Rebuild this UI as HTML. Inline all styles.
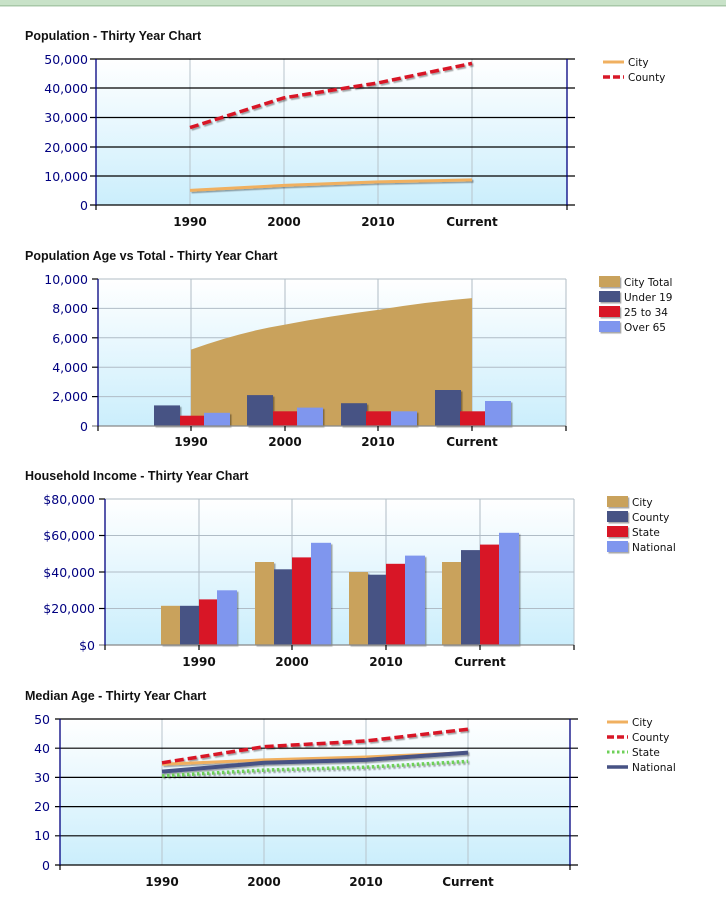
<!DOCTYPE html>
<html><head><meta charset="utf-8"><style>
html,body{margin:0;padding:0;background:#fff;width:726px;height:908px;overflow:hidden}
svg{display:block;font-family:"DejaVu Sans","Liberation Sans",sans-serif}
.t{font-size:12.5px;font-weight:bold;fill:#111;font-family:"Liberation Sans",sans-serif}
.y{font-size:12.5px;fill:#000080;text-anchor:end}
.x{font-size:12px;font-weight:bold;fill:#111;text-anchor:middle}
.l{font-size:10.5px;fill:#111}
</style></head><body>
<svg width="726" height="908" viewBox="0 0 726 908">
<defs>
<linearGradient id="bg" x1="0" y1="0" x2="0" y2="1"><stop offset="0" stop-color="#ffffff"/><stop offset="1" stop-color="#cbeefc"/></linearGradient>
<filter id="sh" x="-5%" y="-20%" width="110%" height="140%"><feDropShadow dx="1.5" dy="1.5" stdDeviation="0.6" flood-color="#000" flood-opacity="0.35"/></filter>
</defs>
<rect x="0" y="0" width="726" height="6" fill="#c8e2c8"/><rect x="0" y="5" width="726" height="1.5" fill="#a8c8a8"/>

<!-- Chart 1 -->
<text class="t" x="25" y="40">Population - Thirty Year Chart</text>
<rect x="96" y="59" width="471" height="146" fill="url(#bg)"/>
<g stroke="#b8c4cc" stroke-width="1"><line x1="190" y1="59" x2="190" y2="205"/><line x1="284" y1="59" x2="284" y2="205"/><line x1="378" y1="59" x2="378" y2="205"/><line x1="472" y1="59" x2="472" y2="205"/></g>
<g stroke="#000" stroke-width="1.2"><line x1="90" y1="59" x2="575" y2="59"/><line x1="90" y1="88" x2="575" y2="88"/><line x1="90" y1="117.5" x2="575" y2="117.5"/><line x1="90" y1="147" x2="575" y2="147"/><line x1="90" y1="176" x2="575" y2="176"/><line x1="90" y1="205" x2="575" y2="205"/><line x1="96" y1="205" x2="96" y2="210"/><line x1="567" y1="205" x2="567" y2="210"/></g>
<line x1="96" y1="59" x2="96" y2="205" stroke="#000080" stroke-width="1.3"/><line x1="567" y1="59" x2="567" y2="205" stroke="#000080" stroke-width="1.3"/>
<g class="y"><text x="88" y="64">50,000</text><text x="88" y="93">40,000</text><text x="88" y="122">30,000</text><text x="88" y="152">20,000</text><text x="88" y="181">10,000</text><text x="88" y="210">0</text></g>
<g filter="url(#sh)" fill="none">
<polyline points="190,190.4 284,185.4 378,181.9 472,179.9" stroke="#f0b060" stroke-width="3"/>
<polyline points="190,127.6 284,97.8 378,82.9 472,63.4" stroke="#d81828" stroke-width="3.5" stroke-dasharray="9,4"/>
</g>
<g class="x"><text x="190" y="226">1990</text><text x="284" y="226">2000</text><text x="378" y="226">2010</text><text x="472" y="226">Current</text></g>
<line x1="603" y1="62" x2="624" y2="62" stroke="#f0b060" stroke-width="3"/><text class="l" x="628" y="66">City</text>
<line x1="603" y1="77" x2="624" y2="77" stroke="#d81828" stroke-width="3.5" stroke-dasharray="7,3"/><text class="l" x="628" y="81">County</text>

<!-- Chart 2 -->
<text class="t" x="25" y="260">Population Age vs Total  - Thirty Year Chart</text>
<rect x="98" y="279" width="468" height="147" fill="url(#bg)"/>
<g stroke="#b0bcc6" stroke-width="1"><line x1="191" y1="279" x2="191" y2="426"/><line x1="285" y1="279" x2="285" y2="426"/><line x1="378" y1="279" x2="378" y2="426"/><line x1="472" y1="279" x2="472" y2="426"/>
<line x1="98" y1="279" x2="566" y2="279"/><line x1="98" y1="308.4" x2="566" y2="308.4"/><line x1="98" y1="337.8" x2="566" y2="337.8"/><line x1="98" y1="367.2" x2="566" y2="367.2"/><line x1="98" y1="396.6" x2="566" y2="396.6"/><line x1="566" y1="279" x2="566" y2="426"/></g>
<path d="M191,426 L191,349.6 Q240,332 285,324.6 Q330,316 378,309.9 Q425,302 472,298.1 L472,426 Z" fill="#c9a25c"/>
<g filter="url(#sh)">
<rect x="154" y="405.4" width="26" height="20.6" fill="#475284"/><rect x="180" y="415.7" width="24" height="10.3" fill="#d81428"/><rect x="204" y="412.8" width="26" height="13.2" fill="#7f96ee"/>
<rect x="247" y="395.1" width="26" height="30.9" fill="#475284"/><rect x="273" y="411.3" width="24" height="14.7" fill="#d81428"/><rect x="297" y="407.6" width="26" height="18.4" fill="#7f96ee"/>
<rect x="341" y="403.2" width="26" height="22.8" fill="#475284"/><rect x="366" y="411.3" width="25" height="14.7" fill="#d81428"/><rect x="391" y="411.3" width="26" height="14.7" fill="#7f96ee"/>
<rect x="435" y="390" width="26" height="36" fill="#475284"/><rect x="460" y="411.3" width="25" height="14.7" fill="#d81428"/><rect x="485" y="401" width="26" height="25" fill="#7f96ee"/>
</g>
<g stroke="#000" stroke-width="1.2"><line x1="92" y1="279" x2="98" y2="279"/><line x1="92" y1="308.4" x2="98" y2="308.4"/><line x1="92" y1="337.8" x2="98" y2="337.8"/><line x1="92" y1="367.2" x2="98" y2="367.2"/><line x1="92" y1="396.6" x2="98" y2="396.6"/><line x1="92" y1="426" x2="566" y2="426" stroke="#888"/><line x1="98" y1="426" x2="98" y2="431"/><line x1="566" y1="426" x2="566" y2="431"/><line x1="191" y1="426" x2="191" y2="431"/><line x1="285" y1="426" x2="285" y2="431"/><line x1="378" y1="426" x2="378" y2="431"/><line x1="472" y1="426" x2="472" y2="431"/></g>
<line x1="98" y1="279" x2="98" y2="426" stroke="#000080" stroke-width="1.3"/>
<g class="y"><text x="88" y="284">10,000</text><text x="88" y="313">8,000</text><text x="88" y="343">6,000</text><text x="88" y="372">4,000</text><text x="88" y="401">2,000</text><text x="88" y="431">0</text></g>
<g class="x"><text x="191" y="446">1990</text><text x="285" y="446">2000</text><text x="378" y="446">2010</text><text x="472" y="446">Current</text></g>
<g filter="url(#sh)"><rect x="599" y="276" width="21" height="11" fill="#c9a25c"/><rect x="599" y="291" width="21" height="11" fill="#475284"/><rect x="599" y="306" width="21" height="11" fill="#d81428"/><rect x="599" y="321" width="21" height="11" fill="#7f96ee"/></g>
<text class="l" x="624" y="286">City Total</text><text class="l" x="624" y="301">Under 19</text><text class="l" x="624" y="316">25 to 34</text><text class="l" x="624" y="331">Over 65</text>

<!-- Chart 3 -->
<text class="t" x="25" y="480">Household Income - Thirty Year Chart</text>
<rect x="105" y="499" width="469" height="146" fill="url(#bg)"/>
<g stroke="#b0bcc6" stroke-width="1"><line x1="199" y1="499" x2="199" y2="645"/><line x1="292" y1="499" x2="292" y2="645"/><line x1="386" y1="499" x2="386" y2="645"/><line x1="480" y1="499" x2="480" y2="645"/>
<line x1="105" y1="499" x2="574" y2="499"/><line x1="105" y1="535.5" x2="574" y2="535.5"/><line x1="105" y1="572" x2="574" y2="572"/><line x1="105" y1="608.5" x2="574" y2="608.5"/><line x1="574" y1="499" x2="574" y2="645"/></g>
<g filter="url(#sh)">
<rect x="161" y="605.8" width="19" height="39.2" fill="#c9a25c"/><rect x="180" y="605.8" width="19" height="39.2" fill="#475284"/><rect x="199" y="599.4" width="18" height="45.6" fill="#d81428"/><rect x="217" y="590.3" width="20" height="54.7" fill="#7f96ee"/>
<rect x="255" y="562" width="19" height="83" fill="#c9a25c"/><rect x="274" y="569.3" width="19" height="75.7" fill="#475284"/><rect x="292" y="557.4" width="19" height="87.6" fill="#d81428"/><rect x="311" y="542.8" width="20" height="102.2" fill="#7f96ee"/>
<rect x="349" y="572" width="19" height="73" fill="#c9a25c"/><rect x="368" y="574.7" width="19" height="70.3" fill="#475284"/><rect x="386" y="563.8" width="19" height="81.2" fill="#d81428"/><rect x="405" y="555.6" width="20" height="89.4" fill="#7f96ee"/>
<rect x="442" y="562" width="19" height="83" fill="#c9a25c"/><rect x="461" y="550.1" width="19" height="94.9" fill="#475284"/><rect x="480" y="544.6" width="19" height="100.4" fill="#d81428"/><rect x="499" y="532.8" width="20" height="112.2" fill="#7f96ee"/>
</g>
<g stroke="#000" stroke-width="1.2"><line x1="99" y1="499" x2="105" y2="499"/><line x1="99" y1="535.5" x2="105" y2="535.5"/><line x1="99" y1="572" x2="105" y2="572"/><line x1="99" y1="608.5" x2="105" y2="608.5"/><line x1="99" y1="645" x2="574" y2="645" stroke="#888"/><line x1="105" y1="645" x2="105" y2="650"/><line x1="574" y1="645" x2="574" y2="650"/><line x1="199" y1="645" x2="199" y2="650"/><line x1="292" y1="645" x2="292" y2="650"/><line x1="386" y1="645" x2="386" y2="650"/><line x1="480" y1="645" x2="480" y2="650"/></g>
<line x1="105" y1="499" x2="105" y2="645" stroke="#000080" stroke-width="1.3"/>
<g class="y"><text x="95" y="504">$80,000</text><text x="95" y="540">$60,000</text><text x="95" y="577">$40,000</text><text x="95" y="613">$20,000</text><text x="95" y="650">$0</text></g>
<g class="x"><text x="199" y="666">1990</text><text x="292" y="666">2000</text><text x="386" y="666">2010</text><text x="480" y="666">Current</text></g>
<g filter="url(#sh)"><rect x="607" y="496" width="21" height="11" fill="#c9a25c"/><rect x="607" y="511" width="21" height="11" fill="#475284"/><rect x="607" y="526" width="21" height="11" fill="#d81428"/><rect x="607" y="541" width="21" height="11" fill="#7f96ee"/></g>
<text class="l" x="632" y="506">City</text><text class="l" x="632" y="521">County</text><text class="l" x="632" y="536">State</text><text class="l" x="632" y="551">National</text>

<!-- Chart 4 -->
<text class="t" x="25" y="700">Median Age - Thirty Year Chart</text>
<rect x="60" y="719" width="510" height="146" fill="url(#bg)"/>
<g stroke="#b8c4cc" stroke-width="1"><line x1="162" y1="719" x2="162" y2="865"/><line x1="264" y1="719" x2="264" y2="865"/><line x1="366" y1="719" x2="366" y2="865"/><line x1="468" y1="719" x2="468" y2="865"/></g>
<g stroke="#000" stroke-width="1.2"><line x1="55" y1="719" x2="578" y2="719"/><line x1="55" y1="748.2" x2="578" y2="748.2"/><line x1="55" y1="777.4" x2="578" y2="777.4"/><line x1="55" y1="806.6" x2="578" y2="806.6"/><line x1="55" y1="835.8" x2="578" y2="835.8"/><line x1="55" y1="865" x2="578" y2="865"/><line x1="60" y1="865" x2="60" y2="870"/><line x1="570" y1="865" x2="570" y2="870"/></g>
<line x1="60" y1="719" x2="60" y2="865" stroke="#000080" stroke-width="1.3"/><line x1="570" y1="719" x2="570" y2="865" stroke="#000080" stroke-width="1.3"/>
<g class="y"><text x="50" y="724">50</text><text x="50" y="753">40</text><text x="50" y="782">30</text><text x="50" y="811">20</text><text x="50" y="840">10</text><text x="50" y="870">0</text></g>
<g filter="url(#sh)" fill="none">
<polyline points="162,764.3 264,759.9 366,757 468,752.6" stroke="#f0b060" stroke-width="3"/>
<polyline points="162,775.9 264,770.1 366,767.2 468,761.4" stroke="#6ed058" stroke-width="3.5" stroke-dasharray="2.5,2.5"/>
<polyline points="162,771.6 264,762.8 366,759.9 468,752.6" stroke="#475284" stroke-width="4"/>
<polyline points="162,762.8 264,746.7 366,740.9 468,729.2" stroke="#d81828" stroke-width="3.5" stroke-dasharray="9,4"/>
</g>
<g class="x"><text x="162" y="886">1990</text><text x="264" y="886">2000</text><text x="366" y="886">2010</text><text x="468" y="886">Current</text></g>
<line x1="607" y1="722" x2="628" y2="722" stroke="#f0b060" stroke-width="3"/><text class="l" x="632" y="726">City</text>
<line x1="607" y1="737" x2="628" y2="737" stroke="#d81828" stroke-width="3.5" stroke-dasharray="7,3"/><text class="l" x="632" y="741">County</text>
<line x1="607" y1="752" x2="628" y2="752" stroke="#6ed058" stroke-width="3" stroke-dasharray="2.5,2.5"/><text class="l" x="632" y="756">State</text>
<line x1="607" y1="767" x2="628" y2="767" stroke="#475284" stroke-width="3.5"/><text class="l" x="632" y="771">National</text>
</svg>
</body></html>
